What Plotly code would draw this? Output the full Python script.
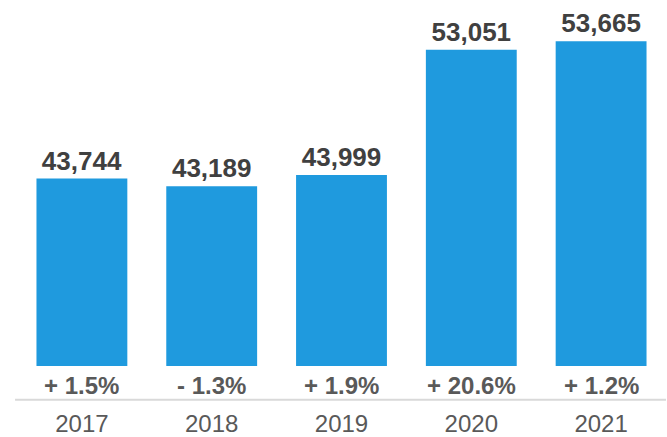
import plotly.graph_objects as go

years = ["2017", "2018", "2019", "2020", "2021"]
values = [43744, 43189, 43999, 53051, 53665]
changes = ["+ 1.5%", "- 1.3%", "+ 1.9%", "+ 20.6%", "+ 1.2%"]

BAR_COLOR = "#1f9ade"
FONT = "Liberation Sans, Arial, Helvetica, sans-serif"

pos = list(range(len(years)))

fig = go.Figure(
    go.Bar(
        x=pos,
        y=values,
        width=0.7,
        marker=dict(color=BAR_COLOR, line=dict(width=0)),
        text=[f"{v:,}" for v in values],
        textposition="outside",
        textfont=dict(family=FONT, size=26, color="#404040"),
        texttemplate="<b>%{text}</b>",
        cliponaxis=False,
    )
)

# year-over-year change under each bar
for p, ch in zip(pos, changes):
    fig.add_annotation(
        x=p, y=0, xref="x", yref="paper",
        text=f"<b>{ch}</b>", showarrow=False,
        yanchor="middle", yshift=-19,
        font=dict(family=FONT, size=24, color="#595959"),
    )

# baseline rule between the change labels and the years
fig.add_shape(
    type="line", xref="paper", yref="paper",
    x0=-0.003, x1=1.0, y0=-0.0921, y1=-0.0921,
    line=dict(color="#d9d9d9", width=2),
)

fig.update_layout(
    width=667, height=437,
    margin=dict(l=17, r=1, t=0, b=68),
    paper_bgcolor="white", plot_bgcolor="white",
    showlegend=False,
    xaxis=dict(
        range=[-0.5, 4.5],
        tickvals=pos, ticktext=years,
        showline=False, showgrid=False, zeroline=False,
        ticks="", ticklabelstandoff=41,
        tickfont=dict(family=FONT, size=24, color="#595959"),
    ),
    yaxis=dict(range=[30186, 56656], visible=False),
)

fig.write_html("out.html")
